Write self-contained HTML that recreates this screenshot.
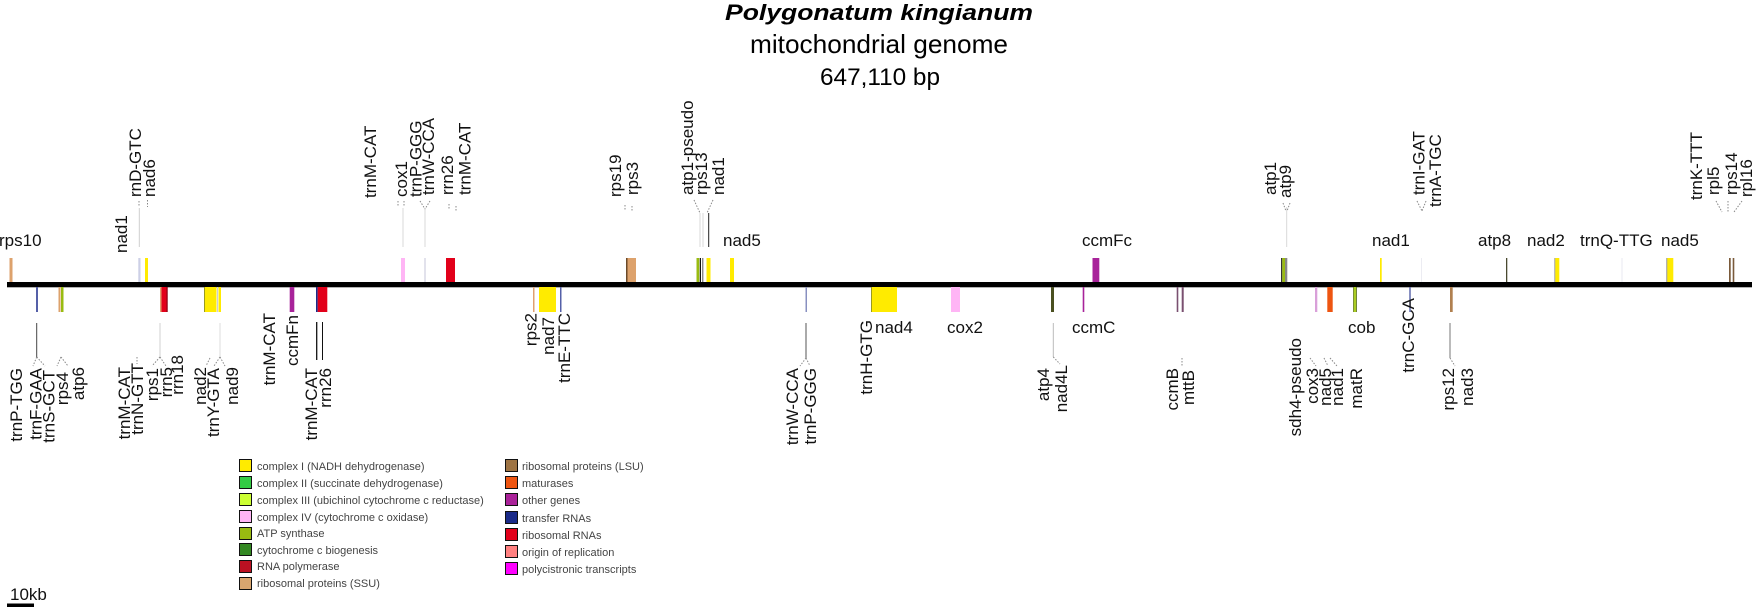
<!DOCTYPE html>
<html>
<head>
<meta charset="utf-8">
<style>
html,body{margin:0;padding:0;background:#fff;}
svg{display:block;}
.g{font-family:"Liberation Sans",Arial,sans-serif;font-size:17px;fill:#111;}
.lg{font-family:"Liberation Sans",Arial,sans-serif;font-size:11px;fill:#444;}
</style>
</head>
<body>
<svg width="1757" height="607" viewBox="0 0 1757 607" xmlns="http://www.w3.org/2000/svg">
<rect width="1757" height="607" fill="#fff"/>

<!-- Title -->
<text x="725" y="20" font-family="Liberation Sans, Arial, sans-serif" font-size="22" font-weight="bold" font-style="italic" textLength="308" lengthAdjust="spacingAndGlyphs">Polygonatum kingianum</text>
<text x="750" y="53" font-family="Liberation Sans, Arial, sans-serif" font-size="26" textLength="258" lengthAdjust="spacingAndGlyphs">mitochondrial genome</text>
<text x="820" y="85" font-family="Liberation Sans, Arial, sans-serif" font-size="24" textLength="120" lengthAdjust="spacingAndGlyphs">647,110 bp</text>

<!-- Top leader lines -->
<g stroke-width="1">
<line x1="139.3" y1="208" x2="139.3" y2="247" stroke="#cfcfcf"/>
<line x1="403" y1="208" x2="403" y2="247" stroke="#d8d8d8"/>
<line x1="425" y1="208" x2="425" y2="247" stroke="#d8d8d8"/>
<line x1="700" y1="213" x2="700" y2="247" stroke="#d8d8d8"/>
<line x1="703" y1="213" x2="703" y2="247" stroke="#d8d8d8"/>
<line x1="708.7" y1="213" x2="708.7" y2="247" stroke="#222"/>
<line x1="1286.7" y1="207" x2="1286.7" y2="247" stroke="#d8d8d8"/>
</g>
<!-- Top dotted fans -->
<g stroke="#888" stroke-width="1" stroke-dasharray="1.5,1.5" fill="none">
<line x1="147.5" y1="200" x2="147.5" y2="207"/>
<line x1="139" y1="201" x2="139" y2="207"/>
<line x1="398" y1="201" x2="398" y2="207"/>
<line x1="404" y1="201" x2="404" y2="207"/>
<line x1="420" y1="201" x2="425" y2="209"/>
<line x1="430" y1="201" x2="425" y2="209"/>
<line x1="449" y1="204" x2="449" y2="209"/>
<line x1="456" y1="206" x2="456" y2="211"/>
<line x1="625" y1="205" x2="625" y2="210"/>
<line x1="632" y1="206" x2="632" y2="211"/>
<line x1="694" y1="200" x2="700" y2="213"/>
<line x1="713" y1="200" x2="707" y2="213"/>
<line x1="1283" y1="203" x2="1286" y2="211"/>
<line x1="1290" y1="203" x2="1287" y2="211"/>
<line x1="1417" y1="201" x2="1422" y2="211"/>
<line x1="1426" y1="201" x2="1422" y2="211"/>
<line x1="1716" y1="201" x2="1722" y2="212"/>
<line x1="1728" y1="201" x2="1728" y2="212"/>
<line x1="1742" y1="201" x2="1734" y2="212"/>
</g>

<!-- Top feature boxes -->
<g>
<rect x="9.5" y="258" width="3" height="24" fill="#DDA26C"/>
<rect x="138.3" y="258" width="2.2" height="24" fill="#cdd0e6"/>
<rect x="145" y="258" width="3" height="24" fill="#FFEB00"/>
<rect x="401" y="258" width="4" height="24" fill="#FFB5F5"/>
<rect x="424" y="258" width="2" height="24" fill="#e2e2ec"/>
<rect x="446" y="258" width="9" height="24" fill="#E2001A"/>
<rect x="626" y="258" width="1.5" height="24" fill="#6b4a2a"/>
<rect x="627.5" y="258" width="8.5" height="24" fill="#DDA26C"/>
<rect x="696.5" y="258" width="2.8" height="24" fill="#99BB11"/>
<rect x="699.8" y="258" width="1.2" height="24" fill="#111"/>
<rect x="702.3" y="258" width="1" height="24" fill="#555"/>
<rect x="706.5" y="258" width="4" height="24" fill="#FFEB00"/>
<rect x="730" y="258" width="4" height="24" fill="#FFEB00"/>
<rect x="1092.5" y="258" width="6.8" height="24" fill="#A8239A"/>
<rect x="1281" y="258" width="1.3" height="24" fill="#333"/>
<rect x="1282.3" y="258" width="2.7" height="24" fill="#99BB11"/>
<rect x="1285" y="258" width="2.3" height="24" fill="#888"/>
<rect x="1380" y="258" width="1.7" height="24" fill="#FFEB00"/>
<rect x="1421" y="258" width="1" height="24" fill="#ececf2"/>
<rect x="1506" y="258" width="1.3" height="24" fill="#4a4a30"/>
<rect x="1554.5" y="258" width="0.8" height="24" fill="#777"/>
<rect x="1555.3" y="258" width="4" height="24" fill="#FFEB00"/>
<rect x="1621.5" y="258" width="1" height="24" fill="#e8e8f0"/>
<rect x="1666.5" y="258" width="0.8" height="24" fill="#666"/>
<rect x="1667.3" y="258" width="6" height="24" fill="#FFEB00"/>
<rect x="1729" y="258" width="1.7" height="24" fill="#7a5a3a"/>
<rect x="1732.7" y="258" width="1.6" height="24" fill="#7a5a3a"/>
</g>

<!-- Main line -->
<rect x="7" y="282" width="1745" height="5.3" fill="#000"/>

<!-- Bottom feature boxes -->
<g>
<rect x="36" y="287" width="2" height="25" fill="#5560a8"/>
<rect x="58.5" y="287" width="2" height="25" fill="#DDA26C"/>
<rect x="61" y="287" width="2.5" height="25" fill="#99BB11"/>
<rect x="160" y="287" width="1.5" height="25" fill="#E0A070"/>
<rect x="161.5" y="287" width="6" height="25" fill="#E2001A"/>
<rect x="166.5" y="287" width="1.2" height="25" fill="#8a0010"/>
<rect x="204" y="287" width="1" height="25" fill="#9a9a20"/>
<rect x="205" y="287" width="11.5" height="25" fill="#FFEB00"/>
<rect x="217" y="287" width="1" height="25" fill="#c8cce0"/>
<rect x="218.5" y="287" width="2.5" height="25" fill="#FFEB00"/>
<rect x="289.7" y="287" width="4.6" height="25" fill="#A8239A"/>
<rect x="316" y="287" width="1.7" height="25" fill="#1A2A88"/>
<rect x="317.7" y="287" width="9.6" height="25" fill="#E2001A"/>
<rect x="533" y="287" width="1.5" height="25" fill="#E0A070"/>
<rect x="539" y="287" width="17" height="25" fill="#FFEB00"/>
<rect x="560" y="287" width="1.5" height="25" fill="#5560a8"/>
<rect x="805.5" y="287" width="1.5" height="25" fill="#8890c0"/>
<rect x="871" y="287" width="1" height="25" fill="#9a9a20"/>
<rect x="872" y="287" width="25" height="25" fill="#FFEB00"/>
<rect x="951" y="287" width="9" height="25" fill="#FFB5F5"/>
<rect x="1051" y="287" width="3" height="25" fill="#4a5020"/>
<rect x="1082.7" y="287" width="1.6" height="25" fill="#A8239A"/>
<rect x="1176.7" y="287" width="1.6" height="25" fill="#7a5070"/>
<rect x="1181.7" y="287" width="2" height="25" fill="#7a5070"/>
<rect x="1315" y="287" width="2.3" height="25" fill="#d9a0d9"/>
<rect x="1327.3" y="287" width="5.4" height="25" fill="#EE5511"/>
<rect x="1353" y="287" width="0.8" height="25" fill="#556b1a"/>
<rect x="1353.8" y="287" width="2.4" height="25" fill="#aacc22"/>
<rect x="1356.2" y="287" width="0.8" height="25" fill="#556b1a"/>
<rect x="1409.3" y="287" width="1.4" height="25" fill="#5560a8"/>
<rect x="1450" y="287" width="2.7" height="25" fill="#B08050"/>
</g>

<!-- Bottom leader lines -->
<g stroke-width="1">
<line x1="36.7" y1="323" x2="36.7" y2="357" stroke="#444"/>
<line x1="160" y1="323" x2="160" y2="357" stroke="#d0d0d0"/>
<line x1="220" y1="323" x2="220" y2="357" stroke="#dcdcdc"/>
<line x1="316.7" y1="322" x2="316.7" y2="360" stroke="#111" stroke-width="1.3"/>
<line x1="322.5" y1="322" x2="322.5" y2="360" stroke="#111"/>
<line x1="806" y1="323" x2="806" y2="358" stroke="#555"/>
<line x1="1053.3" y1="323" x2="1053.3" y2="357" stroke="#bbb"/>
<line x1="1450" y1="323" x2="1450" y2="358" stroke="#777"/>
</g>
<g stroke="#888" stroke-width="1" stroke-dasharray="1.5,1.5" fill="none">
<line x1="36.7" y1="357" x2="33" y2="366"/>
<line x1="36.7" y1="357" x2="45" y2="366"/>
<line x1="61" y1="357" x2="57" y2="366"/>
<line x1="61" y1="357" x2="68" y2="366"/>
<line x1="137" y1="357" x2="137" y2="364"/>
<line x1="160" y1="357" x2="152" y2="366"/>
<line x1="160" y1="357" x2="166" y2="366"/>
<line x1="210" y1="358" x2="206" y2="366"/>
<line x1="220" y1="357" x2="214" y2="366"/>
<line x1="220" y1="357" x2="225" y2="366"/>
<line x1="806" y1="358" x2="800" y2="366"/>
<line x1="806" y1="358" x2="810" y2="366"/>
<line x1="1053.3" y1="357" x2="1060" y2="364"/>
<line x1="1182" y1="358" x2="1182" y2="366"/>
<line x1="1310" y1="358" x2="1316" y2="366"/>
<line x1="1324" y1="358" x2="1328" y2="366"/>
<line x1="1330" y1="358" x2="1337" y2="366"/>
<line x1="1450" y1="358" x2="1455" y2="366"/>
</g>

<!-- Top horizontal labels -->
<g class="g">
<text x="-1" y="246">rps10</text>
<text x="723" y="246">nad5</text>
<text x="1082" y="246">ccmFc</text>
<text x="1372" y="246">nad1</text>
<text x="1478" y="246">atp8</text>
<text x="1527" y="246">nad2</text>
<text x="1580" y="246">trnQ-TTG</text>
<text x="1661" y="246">nad5</text>
</g>

<!-- Top vertical labels (start at bottom) -->
<g class="g">
<text transform="translate(127,253) rotate(-90)">nad1</text>
<text transform="translate(141,197) rotate(-90)">rnD-GTC</text>
<text transform="translate(155,197) rotate(-90)">nad6</text>
<text transform="translate(376,198) rotate(-90)">trnM-CAT</text>
<text transform="translate(407,197) rotate(-90)">cox1</text>
<text transform="translate(421.5,197) rotate(-90)">trnP-GGG</text>
<text transform="translate(434,195) rotate(-90)">trnW-CCA</text>
<text transform="translate(453,195) rotate(-90)">rrn26</text>
<text transform="translate(470.5,195) rotate(-90)">trnM-CAT</text>
<text transform="translate(621,197) rotate(-90)">rps19</text>
<text transform="translate(638,195) rotate(-90)">rps3</text>
<text transform="translate(693,195) rotate(-90)">atp1-pseudo</text>
<text transform="translate(707,195) rotate(-90)">rps13</text>
<text transform="translate(724,195) rotate(-90)">nad1</text>
<text transform="translate(1276,195) rotate(-90)">atp1</text>
<text transform="translate(1291,198) rotate(-90)">atp9</text>
<text transform="translate(1424.5,195) rotate(-90)">trnI-GAT</text>
<text transform="translate(1441,207) rotate(-90)">trnA-TGC</text>
<text transform="translate(1702,200) rotate(-90)">trnK-TTT</text>
<text transform="translate(1719,195) rotate(-90)">rpl5</text>
<text transform="translate(1737,195) rotate(-90)">rps14</text>
<text transform="translate(1752,197) rotate(-90)">rpl16</text>
</g>

<!-- Bottom horizontal labels -->
<g class="g">
<text x="875" y="333">nad4</text>
<text x="947" y="333">cox2</text>
<text x="1072" y="333">ccmC</text>
<text x="1348" y="333">cob</text>
</g>

<!-- Bottom vertical labels (end at top) -->
<g class="g" text-anchor="end">
<text transform="translate(22,368) rotate(-90)">trnP-TGG</text>
<text transform="translate(41.5,368) rotate(-90)">trnF-GAA</text>
<text transform="translate(54.5,370) rotate(-90)">trnS-GCT</text>
<text transform="translate(68,372) rotate(-90)">rps4</text>
<text transform="translate(84,367) rotate(-90)">atp6</text>
<text transform="translate(130,367) rotate(-90)">trnM-CAT</text>
<text transform="translate(143,363) rotate(-90)">trnN-GTT</text>
<text transform="translate(158,368) rotate(-90)">rps1</text>
<text transform="translate(172,367) rotate(-90)">rrn5</text>
<text transform="translate(183,355) rotate(-90)">rrn18</text>
<text transform="translate(206,367) rotate(-90)">nad2</text>
<text transform="translate(219,368) rotate(-90)">trnY-GTA</text>
<text transform="translate(238,367) rotate(-90)">nad9</text>
<text transform="translate(275,313) rotate(-90)">trnM-CAT</text>
<text transform="translate(298,315) rotate(-90)">ccmFn</text>
<text transform="translate(317,368) rotate(-90)">trnM-CAT</text>
<text transform="translate(331,368) rotate(-90)">rrn26</text>
<text transform="translate(536.5,313) rotate(-90)">rps2</text>
<text transform="translate(554,317) rotate(-90)">nad7</text>
<text transform="translate(570,313) rotate(-90)">trnE-TTC</text>
<text transform="translate(798,368) rotate(-90)">trnW-CCA</text>
<text transform="translate(816,368) rotate(-90)">trnP-GGG</text>
<text transform="translate(872,320) rotate(-90)">trnH-GTG</text>
<text transform="translate(1049,368) rotate(-90)">atp4</text>
<text transform="translate(1067,365) rotate(-90)">nad4L</text>
<text transform="translate(1178,368) rotate(-90)">ccmB</text>
<text transform="translate(1194,370) rotate(-90)">mttB</text>
<text transform="translate(1301,338) rotate(-90)">sdh4-pseudo</text>
<text transform="translate(1318,368) rotate(-90)">cox3</text>
<text transform="translate(1331,368) rotate(-90)">nad5</text>
<text transform="translate(1343,368) rotate(-90)">nad1</text>
<text transform="translate(1362,368) rotate(-90)">matR</text>
<text transform="translate(1414,298) rotate(-90)">trnC-GCA</text>
<text transform="translate(1454,368) rotate(-90)">rps12</text>
<text transform="translate(1473,368) rotate(-90)">nad3</text>
</g>

<!-- Legend -->
<g stroke="#111" stroke-width="1">
<rect x="239.5" y="459.5" width="12" height="12" fill="#FFEB00"/>
<rect x="239.5" y="476.5" width="12" height="12" fill="#33CC44"/>
<rect x="239.5" y="493.5" width="12" height="12" fill="#CCFF33"/>
<rect x="239.5" y="510.5" width="12" height="12" fill="#FFB5F5"/>
<rect x="239.5" y="527.5" width="12" height="12" fill="#99BB11"/>
<rect x="239.5" y="543.5" width="12" height="12" fill="#338822"/>
<rect x="239.5" y="560.5" width="12" height="12" fill="#BB1122"/>
<rect x="239.5" y="577.5" width="12" height="12" fill="#D9A66F"/>
<rect x="505.5" y="459.5" width="12" height="12" fill="#9E7444"/>
<rect x="505.5" y="476.5" width="12" height="12" fill="#EE5511"/>
<rect x="505.5" y="493.5" width="12" height="12" fill="#AA2299"/>
<rect x="505.5" y="511.5" width="12" height="12" fill="#1A2A88"/>
<rect x="505.5" y="528.5" width="12" height="12" fill="#E2001A"/>
<rect x="505.5" y="545.5" width="12" height="12" fill="#FF8080"/>
<rect x="505.5" y="562.5" width="12" height="12" fill="#FF00FF"/>
</g>
<g class="lg">
<text x="257" y="470">complex I (NADH dehydrogenase)</text>
<text x="257" y="487">complex II (succinate dehydrogenase)</text>
<text x="257" y="504">complex III (ubichinol cytochrome c reductase)</text>
<text x="257" y="521">complex IV (cytochrome c oxidase)</text>
<text x="257" y="537">ATP synthase</text>
<text x="257" y="554">cytochrome c biogenesis</text>
<text x="257" y="570">RNA polymerase</text>
<text x="257" y="587">ribosomal proteins (SSU)</text>
<text x="522" y="470">ribosomal proteins (LSU)</text>
<text x="522" y="487">maturases</text>
<text x="522" y="504">other genes</text>
<text x="522" y="522">transfer RNAs</text>
<text x="522" y="539">ribosomal RNAs</text>
<text x="522" y="556">origin of replication</text>
<text x="522" y="573">polycistronic transcripts</text>
</g>

<!-- Scale bar -->
<text x="10" y="600" font-family="Liberation Sans, Arial, sans-serif" font-size="17" fill="#111">10kb</text>
<rect x="7" y="603.5" width="27" height="3.5" fill="#000"/>
</svg>
</body>
</html>
